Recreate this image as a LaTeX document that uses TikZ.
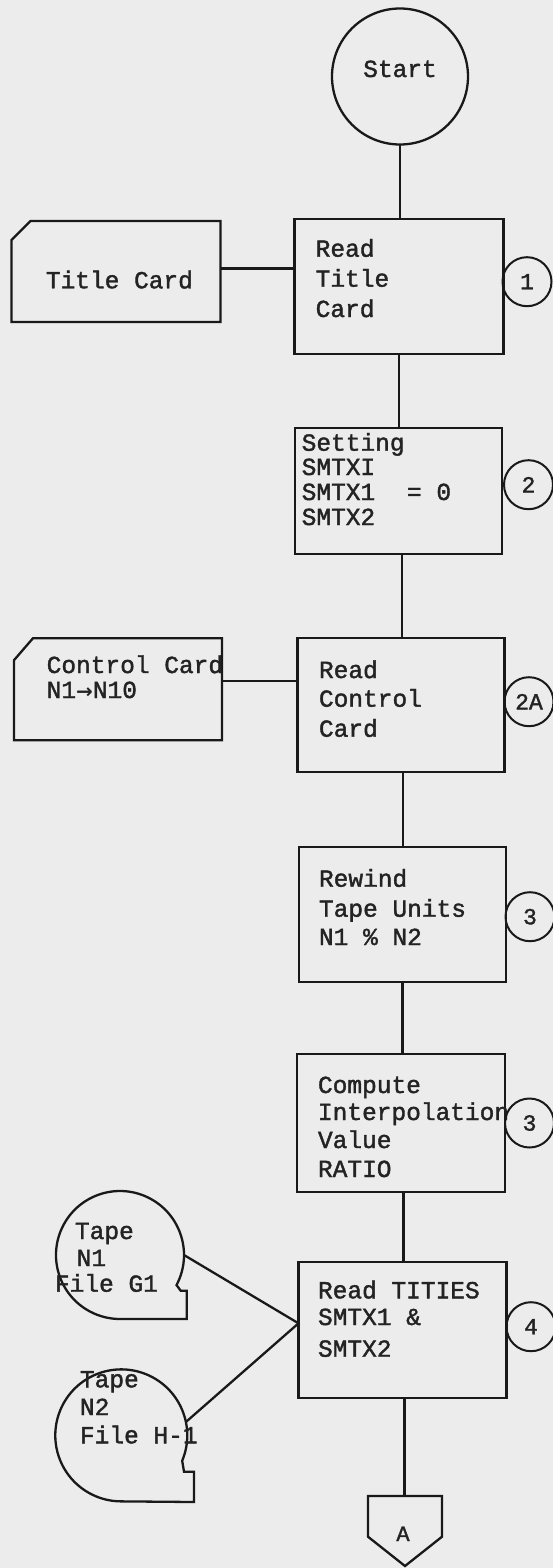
\documentclass[tikz,border=0pt]{standalone}
\usepackage{fontspec}
\setmainfont{Liberation Mono}[FakeBold=1.6]
\newfontfamily\arrowfont{DejaVu Sans}
\definecolor{paper}{RGB}{236,236,236}
\definecolor{ink}{RGB}{25,25,25}
\definecolor{typeink}{RGB}{35,35,35}
\begin{document}
\begin{tikzpicture}[x=1pt,y=1pt,
  ln/.style={draw=ink, line width=2.3pt, line join=miter},
  procbox/.style={draw=ink, line width=2.3pt, rectangle, inner sep=0pt, outer sep=0pt},
  refcirc/.style={draw=ink, line width=2pt, circle, minimum size=49pt, inner sep=0pt, outer sep=0pt,
                  text=typeink, font=\fontsize{23}{27}\selectfont},
  hidden/.style={inner sep=0pt, outer sep=0pt},
  txt/.style={anchor=base west, inner sep=0pt, outer sep=0pt, text=typeink, font=\fontsize{24.5}{29}\selectfont}]
\fill[paper] (0,0) rectangle (553,-1568);
\useasboundingbox (0,0) rectangle (553,-1568);

% Start terminal
\node[draw=ink, line width=2.3pt, circle, minimum size=136pt, inner sep=0pt, outer sep=0pt] (start) at (400,-76.5) {};
\node[txt, anchor=base] (starttxt) at (400,-77) {Start};

% process boxes
\node[procbox, minimum width=209pt, minimum height=135pt] (b1) at (399.1,-286.6) {};
\node[procbox, minimum width=207pt, minimum height=126pt] (b2) at (398.7,-491.2) {};
\node[procbox, minimum width=207pt, minimum height=134pt] (b3) at (400.9,-705.3) {};
\node[procbox, minimum width=207pt, minimum height=135pt] (b4) at (402.5,-914.2) {};
\node[procbox, minimum width=208pt, minimum height=138pt] (b5) at (400.9,-1122.9) {};
\node[procbox, minimum width=208pt, minimum height=136pt] (b6) at (402.5,-1330.3) {};

% box texts
\node[txt] (b1l1) at (315.7,-256.7) {Read};
\node[txt] (b1l2) at (315.7,-286.7) {Title};
\node[txt] (b1l3) at (315.7,-317.0) {Card};

\node[txt] (b2l1) at (301.7,-450.7) {Setting};
\node[txt] (b2l2) at (301.7,-475.0) {SMTXI};
\node[txt] (b2l3) at (301.7,-500.0) {SMTX1};
\node[txt] (b2l3b) at (407.0,-500.0) {=~0};
\node[txt] (b2l4) at (301.7,-525.0) {SMTX2};

\node[txt] (b3l1) at (319,-678.0) {Read};
\node[txt] (b3l2) at (319,-706.7) {Control};
\node[txt] (b3l3) at (319,-736.7) {Card};

\node[txt] (b4l1) at (319,-886.7) {Rewind};
\node[txt] (b4l2) at (319,-916.7) {Tape Units};
\node[txt] (b4l3) at (319,-945.0) {N1 \% N2};

\node[txt] (b5l1) at (318,-1093) {Compute};
\node[txt] (b5l2) at (318,-1120) {Interpolation};
\node[txt] (b5l3) at (318,-1148) {Value};
\node[txt] (b5l4) at (318,-1177) {RATIO};

\node[txt] (b6l1) at (318,-1298.3) {Read TITIES};
\node[txt] (b6l2) at (318,-1325.0) {SMTX1 \&};
\node[txt] (b6l3) at (318,-1356.7) {SMTX2};

% reference circles
\node[refcirc] (c1) at (527,-281.7) {1};
\node[refcirc] (c2) at (528.5,-484.7) {2};
\node[refcirc] (c2a) at (529,-701.7) {2A};
\node[refcirc] (c3a) at (530,-916.7) {3};
\node[refcirc] (c3b) at (529.5,-1123) {3};
\node[refcirc] (c4) at (531,-1326.7) {4};

% punched cards
\node[hidden, minimum width=209pt, minimum height=101pt] (tc) at (116,-271.4) {};
\draw[ln] ([yshift=-19pt]tc.north west) -- ([xshift=19pt]tc.north west) -- (tc.north east)
  -- (tc.south east) -- (tc.south west) -- cycle;
\node[txt] (tctxt) at (45.9,-288.3) {Title Card};

\node[hidden, minimum width=208pt, minimum height=102pt] (cc) at (118,-689.2) {};
\draw[ln] ([yshift=-22pt]cc.north west) -- ([xshift=19pt]cc.north west) -- (cc.north east)
  -- (cc.south east) -- (cc.south west) -- cycle;
\node[txt] (cctxt1) at (46.7,-673) {Control Card};
\node[txt] (cctxt2) at (46.7,-698) {N1{\arrowfont\bfseries\fontsize{20}{24}\selectfont →}N10};

% tapes
\node[hidden, circle, minimum size=128pt] (t1) at (120,-1255) {};
\draw[ln] (t1.-28) arc[start angle=-28, end angle=270, radius=64] -- (186.7,-1319)
  -- (186.7,-1290.7) -- (180.7,-1290.7) -- cycle;
\node[txt] (t1l1) at (75,-1239) {Tape};
\node[txt] (t1l2) at (76.7,-1266) {N1};
\node[txt] (t1l3) at (55,-1291.7) {File G1};

\node[hidden, circle, minimum size=132pt] (t2) at (121,-1436) {};
\draw[ln] (t2.-22.6) arc[start angle=-22.6, end angle=270, radius=66] -- (194,-1502)
  -- (194,-1471.7) -- (184,-1471.7) -- cycle;
\node[txt] (t2l1) at (80,-1387.3) {Tape};
\node[txt] (t2l2) at (80,-1415) {N2};
\node[txt] (t2l3) at (80,-1443.3) {File H-1};

% off-page connector A
\coordinate (Atop) at (404.5,-1496);
\draw[ln] (368,-1496) -- (442,-1496) -- (442,-1536.7) -- (405,-1566) -- (368,-1536.7) -- cycle;
\node[txt, anchor=base, font=\fontsize{22}{26}\selectfont] (Alab) at (403,-1541) {A};

% connectors
\draw[ln] (start.south) -- (start.south |- b1.north);
\draw[ln] (b1.south) -- (b1.south |- b2.north);
\draw[ln] ([xshift=3pt]b2.south) -- ([xshift=3pt]b2.south |- b3.north);
\draw[ln] ([xshift=2pt]b3.south) -- ([xshift=2pt]b3.south |- b4.north);
\draw[ln] (b4.south) -- (b4.south |- b5.north);
\draw[ln] ([xshift=2.5pt]b5.south) -- ([xshift=2.5pt]b5.south |- b6.north);
\draw[ln] ([xshift=2pt]b6.south) -- ([xshift=2pt]b6.south |- Atop);
\draw[ln] ([yshift=3pt]tc.east) -- ([yshift=3pt]tc.east -| b1.west);
\draw[ln] ([yshift=8.5pt]cc.east) -- ([yshift=8.5pt]cc.east -| b3.west);
\draw[ln] (t1.east) -- ([yshift=7pt]b6.west);
\draw[ln] (t2.12) -- ([yshift=7pt]b6.west);
\end{tikzpicture}
\end{document}
